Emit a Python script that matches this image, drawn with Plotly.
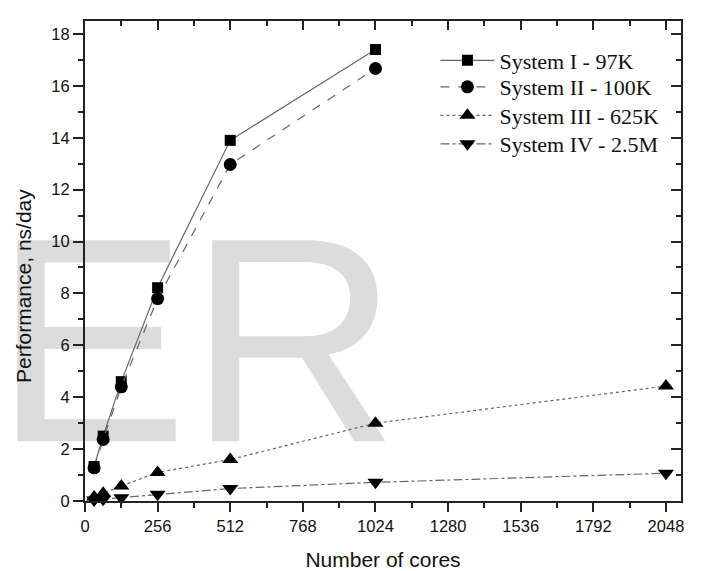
import plotly.graph_objects as go

cores = [32, 64, 128, 256, 512, 1024, 2048]
sys1 = [1.33, 2.5, 4.6, 8.22, 13.9, 17.4]
sys2 = [1.28, 2.37, 4.4, 7.8, 12.97, 16.67]
sys3 = [0.15, 0.3, 0.58, 1.1, 1.6, 3.0, 4.43]
sys4 = [0.04, 0.07, 0.13, 0.26, 0.48, 0.72, 1.07]
names = ["System I - 97K", "System II - 100K", "System III - 625K", "System IV - 2.5M"]
xticks = [0, 256, 512, 768, 1024, 1280, 1536, 1792, 2048]
yticks = [0, 2, 4, 6, 8, 10, 12, 14, 16, 18]

LINE = "#666666"
AX = "#222222"
TICKFONT = dict(family="Liberation Sans, Arial", size=16.5, color="#111111")
TITLEFONT = dict(family="Liberation Sans, Arial", size=21, color="#111111")
LEGFONT = dict(family="Liberation Serif, Times New Roman", size=22, color="#111111")

fig = go.Figure()

# watermark
fig.add_trace(go.Scatter(x=[392], y=[5.12], mode="text", text=["ER"],
                         textfont=dict(family="Liberation Sans, Arial", size=292, color="#dcdcdc"),
                         cliponaxis=False, hoverinfo="skip", showlegend=False))

series = [
    (cores[:6], sys1, "solid", "square", 11),
    (cores[:6], sys2, "dash", "circle", 13),
    (cores, sys3, "dot", "triangle-up", 14),
    (cores, sys4, "dashdot", "triangle-down", 14),
]
legend_ids = ["legend", "legend2", "legend3", "legend4"]
for (xs, ys, dash, sym, sz), nm, lg in zip(series, names, legend_ids):
    fig.add_trace(go.Scatter(x=xs, y=ys, name=nm, mode="lines+markers", legend=lg,
                             line=dict(color=LINE, width=1.2, dash=dash),
                             marker=dict(symbol=sym, size=sz, color="black"),
                             cliponaxis=False))

# empty trace to activate mirrored tick axes
fig.add_trace(go.Scatter(x=[], y=[], xaxis="x2", yaxis="y2", showlegend=False, hoverinfo="skip"))

xr = [0, 2101]
yr = [0, 18.5]

# page body has an 8px margin: figure is sized/margined so the plot lands at page (85..681, 21..501)
W, H = 693, 563
ML, MT, MR, MB = 77, 13, 20, 70
row_y = [60.5, 87.0, 115.5, 144.0]  # legend row centres (page px)
plot_top, plot_bot = 21, 501
legs = {}
for lg, py in zip(legend_ids, row_y):
    legs[lg] = dict(x=0.588, y=(plot_bot - py) / (plot_bot - plot_top), xanchor="left", yanchor="middle",
                    font=LEGFONT, bgcolor="rgba(0,0,0,0)", itemwidth=54)

fig.update_layout(
    width=W, height=H,
    margin=dict(l=ML, r=MR, t=MT, b=MB),
    paper_bgcolor="white", plot_bgcolor="rgba(0,0,0,0)",
    showlegend=True,
    **legs,
    xaxis=dict(range=xr, tickvals=xticks, ticks="outside", ticklen=9, tickwidth=1.6, tickcolor=AX,
               showline=True, linewidth=2, linecolor=AX, mirror=True, showgrid=False, zeroline=False,
               automargin=False,
               tickfont=TICKFONT, title=dict(text="Number of cores", font=TITLEFONT, standoff=20),
               minor=dict(dtick=128, tick0=0, ticks="outside", ticklen=5, tickwidth=1.6, tickcolor=AX),
               ticklabelstandoff=0),
    yaxis=dict(range=yr, tickvals=yticks, ticks="outside", ticklen=10,
               tickwidth=1.6, tickcolor=AX, showline=True, linewidth=2, linecolor=AX, mirror=True,
               showgrid=False, zeroline=False, tickfont=TICKFONT, automargin=False,
               minor=dict(dtick=1, tick0=0, ticks="outside", ticklen=5, tickwidth=1.6, tickcolor=AX)),
    xaxis2=dict(range=xr, overlaying="x", side="top", anchor="y2", tickvals=xticks, ticks="inside",
                ticklen=9, tickwidth=1.6, tickcolor=AX, showticklabels=False, showgrid=False,
                zeroline=False, showline=False, automargin=False,
                minor=dict(dtick=128, tick0=0, ticks="inside", ticklen=5, tickwidth=1.6, tickcolor=AX)),
    yaxis2=dict(range=yr, overlaying="y", side="right", anchor="x2", tickvals=yticks,
                ticks="inside", ticklen=10, tickwidth=1.6, tickcolor=AX, showticklabels=False,
                showgrid=False, zeroline=False, showline=False, automargin=False,
                minor=dict(dtick=1, tick0=0, ticks="inside", ticklen=5, tickwidth=1.6, tickcolor=AX)),
    annotations=[dict(text="Performance, ns/day", textangle=-90, xref="paper", yref="paper",
                      x=0, y=(plot_bot - 286) / (plot_bot - plot_top), xanchor="center", yanchor="middle",
                      xshift=-61, showarrow=False, font=TITLEFONT)],
)

fig.write_html("out.html")
